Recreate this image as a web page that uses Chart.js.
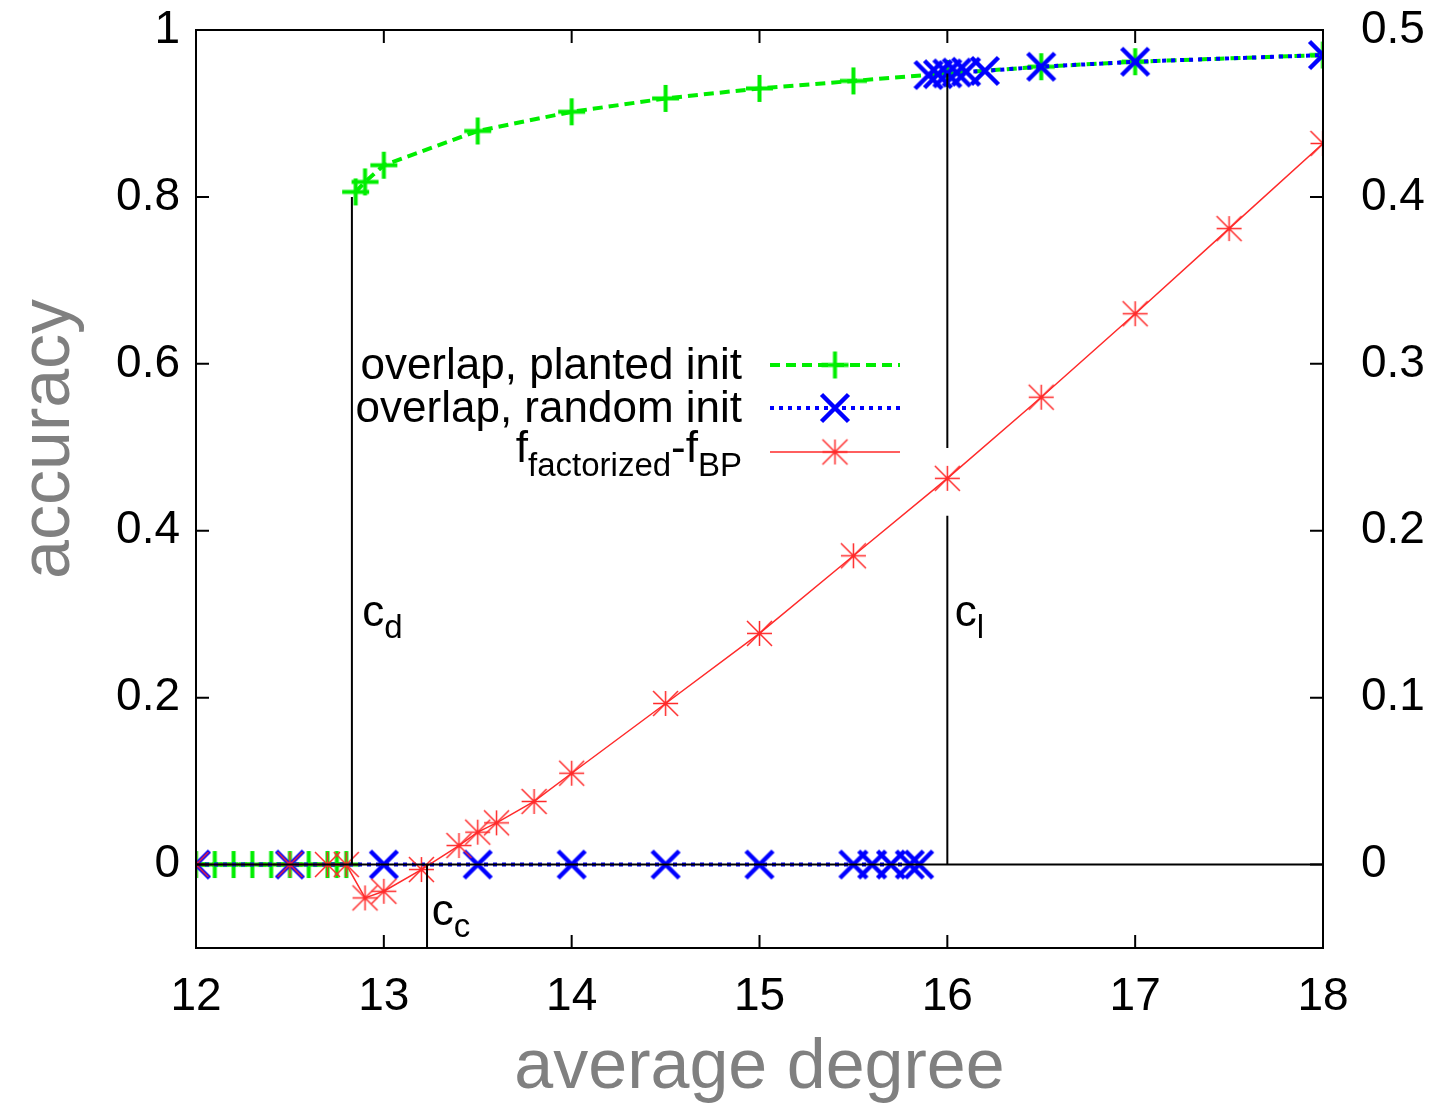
<!DOCTYPE html>
<html><head><meta charset="utf-8">
<script src="https://cdn.jsdelivr.net/npm/chart.js@4.4.1/dist/chart.umd.min.js"></script>
<style>html,body{margin:0;padding:0;background:#fff;} #wrap{width:1429px;height:1103px;}</style>
</head><body><div id="wrap"><canvas id="c" width="1429" height="1103"></canvas></div>
<script>
// ---------- data ----------
const xTicks = [12, 13, 14, 15, 16, 17, 18];
const yTicks = [0, 0.2, 0.4, 0.6, 0.8, 1];
const yTickLabels = ['0', '0.2', '0.4', '0.6', '0.8', '1'];
const y2Ticks = [0, 0.1, 0.2, 0.3, 0.4, 0.5];
const y2TickLabels = ['0', '0.1', '0.2', '0.3', '0.4', '0.5'];

// overlap, planted init (two branches)
const plantedLowX = [12, 12.1, 12.2, 12.3, 12.4, 12.5, 12.6, 12.7, 12.75, 12.8];
const plantedLowY = [0, 0, 0, 0, 0, 0, 0, 0, 0, 0];
const plantedHighX = [12.85, 12.9, 13, 13.5, 14, 14.5, 15, 15.5, 16, 16.5, 17, 18];
const plantedHighY = [0.806, 0.818, 0.838, 0.879, 0.902, 0.918, 0.930, 0.939, 0.948, 0.956, 0.962, 0.970];

// overlap, random init (two branches)
const randomLowX = [12, 12.5, 13, 13.5, 14, 14.5, 15, 15.5, 15.6, 15.7, 15.8, 15.85];
const randomLowY = [0, 0, 0, 0, 0, 0, 0, 0, 0, 0, 0, 0];
const randomHighX = [15.9, 15.95, 16, 16.05, 16.1, 16.2, 16.5, 17, 18];
const randomHighY = [0.946, 0.947, 0.948, 0.949, 0.950, 0.951, 0.956, 0.962, 0.970];

// f_factorized - f_BP (right axis)
const freeX = [12, 12.5, 12.7, 12.8, 12.9, 13, 13.2, 13.4, 13.5, 13.6, 13.8, 14, 14.5, 15, 15.5, 16, 16.5, 17, 17.5, 18];
const freeY = [0, 0, 0, 0, -0.020, -0.016, -0.003, 0.0114, 0.0194, 0.025, 0.0378, 0.0547, 0.0965, 0.1385, 0.185, 0.2314, 0.280, 0.330, 0.381, 0.432];

// reference lines and labels (data coordinates on left axis)
const cD = 12.83, cDTop = 0.8;
const cC = 13.23;
const cL = 16, cLSegments = [[0, 0.418], [0.499, 0.948]];
const labels = [
  {main: 'c', sub: 'd', x: 12.885, y: 0.30},
  {main: 'c', sub: 'l', x: 16.04, y: 0.30},
  {main: 'c', sub: 'c', x: 13.255, y: -0.058}
];
const legendNames = ['overlap, planted init', 'overlap, random init', ['f', 'factorized', '-f', 'BP']];
const yTitle = 'accuracy';

// ---------- styles ----------
const GREEN = '#00ee00', BLUE = '#0000ff', RED = '#ff2a2a';
const FONT = '"Liberation Sans", Arial, Helvetica, sans-serif';

function makeMarker(type, half, lw, color) {
  const s = Math.ceil(2 * half + lw + 4);
  const c = document.createElement('canvas'); c.width = s; c.height = s;
  const g = c.getContext('2d'); g.strokeStyle = color; g.lineWidth = lw; g.lineCap = 'butt';
  const m = s / 2;
  g.beginPath();
  if (type === 'plus' || type === 'star') { g.moveTo(m - half, m); g.lineTo(m + half, m); g.moveTo(m, m - half); g.lineTo(m, m + half); }
  if (type === 'x' || type === 'star') { g.moveTo(m - half, m - half); g.lineTo(m + half, m + half); g.moveTo(m - half, m + half); g.lineTo(m + half, m - half); }
  g.stroke();
  return c;
}
const mPlus = makeMarker('plus', 13.5, 4, GREEN);
const mX = makeMarker('x', 13.5, 4.5, BLUE);
const mStar = makeMarker('star', 12.5, 1.5, RED);

function pts(xs, ys) { return xs.map((x, i) => ({x: x, y: ys[i]})); }
function branches(lx, ly, hx, hy) {
  return pts(lx, ly).concat([{x: lx[lx.length - 1], y: null}], pts(hx, hy));
}

const overlayPlugin = {
  id: 'overlay',
  afterDatasetsDraw(chart) {
    const ctx = chart.ctx, xs = chart.scales.x, ys = chart.scales.y;
    const px = v => xs.getPixelForValue(v), py = v => ys.getPixelForValue(v);
    ctx.save();
    ctx.strokeStyle = '#000'; ctx.lineWidth = 2;
    ctx.beginPath();
    ctx.moveTo(px(12), py(0)); ctx.lineTo(px(18), py(0));
    ctx.moveTo(px(cD), py(0)); ctx.lineTo(px(cD), py(cDTop));
    ctx.moveTo(px(cC), py(ys.min)); ctx.lineTo(px(cC), py(0));
    cLSegments.forEach(s => { ctx.moveTo(px(cL), py(s[0])); ctx.lineTo(px(cL), py(s[1])); });
    ctx.stroke();
    ctx.fillStyle = '#000'; ctx.textBaseline = 'alphabetic'; ctx.textAlign = 'left';
    labels.forEach(l => {
      const x = px(l.x), y = py(l.y) + 12;
      ctx.font = '44px ' + FONT; ctx.fillText(l.main, x, y);
      const w = ctx.measureText(l.main).width;
      ctx.font = '33px ' + FONT; ctx.fillText(l.sub, x + w, y + 12);
    });
    const rightX = 742, sx0 = 770, sx1 = 900, mx = 835;
    const rows = [365, 408, 452];
    const styles = [
      {color: GREEN, dash: [10, 6], lw: 4, m: mPlus},
      {color: BLUE, dash: [4, 5], lw: 4, m: mX},
      {color: RED, dash: [], lw: 1.5, m: mStar}
    ];
    rows.forEach((ry, i) => {
      const st = styles[i];
      ctx.save();
      ctx.strokeStyle = st.color; ctx.lineWidth = st.lw; ctx.setLineDash(st.dash);
      ctx.beginPath(); ctx.moveTo(sx0, ry); ctx.lineTo(sx1, ry); ctx.stroke();
      ctx.restore();
      ctx.drawImage(st.m, mx - st.m.width / 2, ry - st.m.height / 2);
      const name = legendNames[i];
      ctx.fillStyle = '#000';
      if (typeof name === 'string') {
        ctx.font = '44px ' + FONT; ctx.textAlign = 'right';
        ctx.fillText(name, rightX, ry + 14);
      } else {
        const parts = name.map((t, k) => ({t: t, sub: k % 2 === 1}));
        let total = 0;
        parts.forEach(p => { ctx.font = (p.sub ? '33px ' : '44px ') + FONT; p.w = ctx.measureText(p.t).width; total += p.w; });
        let x = rightX - total;
        ctx.textAlign = 'left';
        parts.forEach(p => {
          ctx.font = (p.sub ? '33px ' : '44px ') + FONT;
          ctx.fillText(p.t, x, ry + (p.sub ? 24 : 10));
          x += p.w;
        });
      }
    });
    ctx.restore();
  },
  afterDraw(chart) {
    const ctx = chart.ctx, a = chart.chartArea;
    const xs = chart.scales.x, ys = chart.scales.y, y2 = chart.scales.y2;
    const T = 13;
    ctx.save();
    ctx.strokeStyle = '#000'; ctx.lineWidth = 2;
    ctx.strokeRect(a.left, a.top, a.right - a.left, a.bottom - a.top);
    ctx.beginPath();
    xTicks.forEach(v => { const x = xs.getPixelForValue(v); ctx.moveTo(x, a.bottom); ctx.lineTo(x, a.bottom - T); ctx.moveTo(x, a.top); ctx.lineTo(x, a.top + T); });
    yTicks.forEach(v => { const y = ys.getPixelForValue(v); ctx.moveTo(a.left, y); ctx.lineTo(a.left + T, y); });
    y2Ticks.forEach(v => { const y = y2.getPixelForValue(v); ctx.moveTo(a.right, y); ctx.lineTo(a.right - T, y); });
    ctx.stroke();
    // y axis title (gnuplot places it a bit above the centre)
    ctx.translate(50, ys.getPixelForValue(0.51));
    ctx.rotate(-Math.PI / 2);
    ctx.font = '70px ' + FONT; ctx.fillStyle = '#808080';
    ctx.textAlign = 'center'; ctx.textBaseline = 'middle';
    ctx.fillText(yTitle, 0, 0);
    ctx.restore();
  }
};

const TICKFONT = {size: 46, family: FONT};
new Chart(document.getElementById('c'), {
  type: 'line',
  data: {
    datasets: [
      {label: 'overlap, planted init', data: branches(plantedLowX, plantedLowY, plantedHighX, plantedHighY),
       borderColor: GREEN, borderWidth: 4, borderDash: [10, 6], pointStyle: mPlus, pointRadius: 14,
       yAxisID: 'y', order: 2, spanGaps: false, tension: 0, fill: false},
      {label: 'overlap, random init', data: branches(randomLowX, randomLowY, randomHighX, randomHighY),
       borderColor: BLUE, borderWidth: 4, borderDash: [4, 5], pointStyle: mX, pointRadius: 14,
       yAxisID: 'y', order: 1, spanGaps: false, tension: 0, fill: false},
      {label: 'f_factorized-f_BP', data: pts(freeX, freeY),
       borderColor: RED, borderWidth: 1.5, pointStyle: mStar, pointRadius: 14,
       yAxisID: 'y2', order: 0, tension: 0, fill: false}
    ]
  },
  options: {
    responsive: false, animation: false, devicePixelRatio: 1,
    layout: {padding: {top: 30, left: 0, right: 0, bottom: 0}},
    plugins: {legend: {display: false}, tooltip: {enabled: false}},
    scales: {
      x: {
        type: 'linear', position: 'bottom', min: 12, max: 18,
        afterBuildTicks: s => { s.ticks = xTicks.map(v => ({value: v})); },
        afterFit: s => { s.height = 155; s.paddingLeft = 0; s.paddingRight = 0; },
        grid: {display: false, drawTicks: false}, border: {display: false},
        ticks: {font: TICKFONT, color: '#000', padding: 22, maxRotation: 0, autoSkip: false,
                callback: v => String(v)},
        title: {display: true, text: 'average degree', color: '#808080', font: {size: 70, family: FONT}, padding: {top: 0, bottom: -8}}
      },
      y: {
        type: 'linear', position: 'left', min: -0.1, max: 1,
        afterBuildTicks: s => { s.ticks = yTicks.map(v => ({value: v})); },
        afterFit: s => { s.width = 196; s.paddingTop = 0; s.paddingBottom = 0; },
        grid: {display: false, drawTicks: false}, border: {display: false},
        ticks: {font: TICKFONT, color: '#000', padding: 16, autoSkip: false,
                callback: (v, i) => yTickLabels[i]},
        title: {display: false}
      },
      y2: {
        type: 'linear', position: 'right', min: -0.05, max: 0.5,
        afterBuildTicks: s => { s.ticks = y2Ticks.map(v => ({value: v})); },
        afterFit: s => { s.width = 106; s.paddingTop = 0; s.paddingBottom = 0; },
        grid: {display: false, drawTicks: false}, border: {display: false},
        ticks: {font: TICKFONT, color: '#000', padding: 38, autoSkip: false,
                callback: (v, i) => y2TickLabels[i]}
      }
    }
  },
  plugins: [overlayPlugin]
});
</script></body></html>
